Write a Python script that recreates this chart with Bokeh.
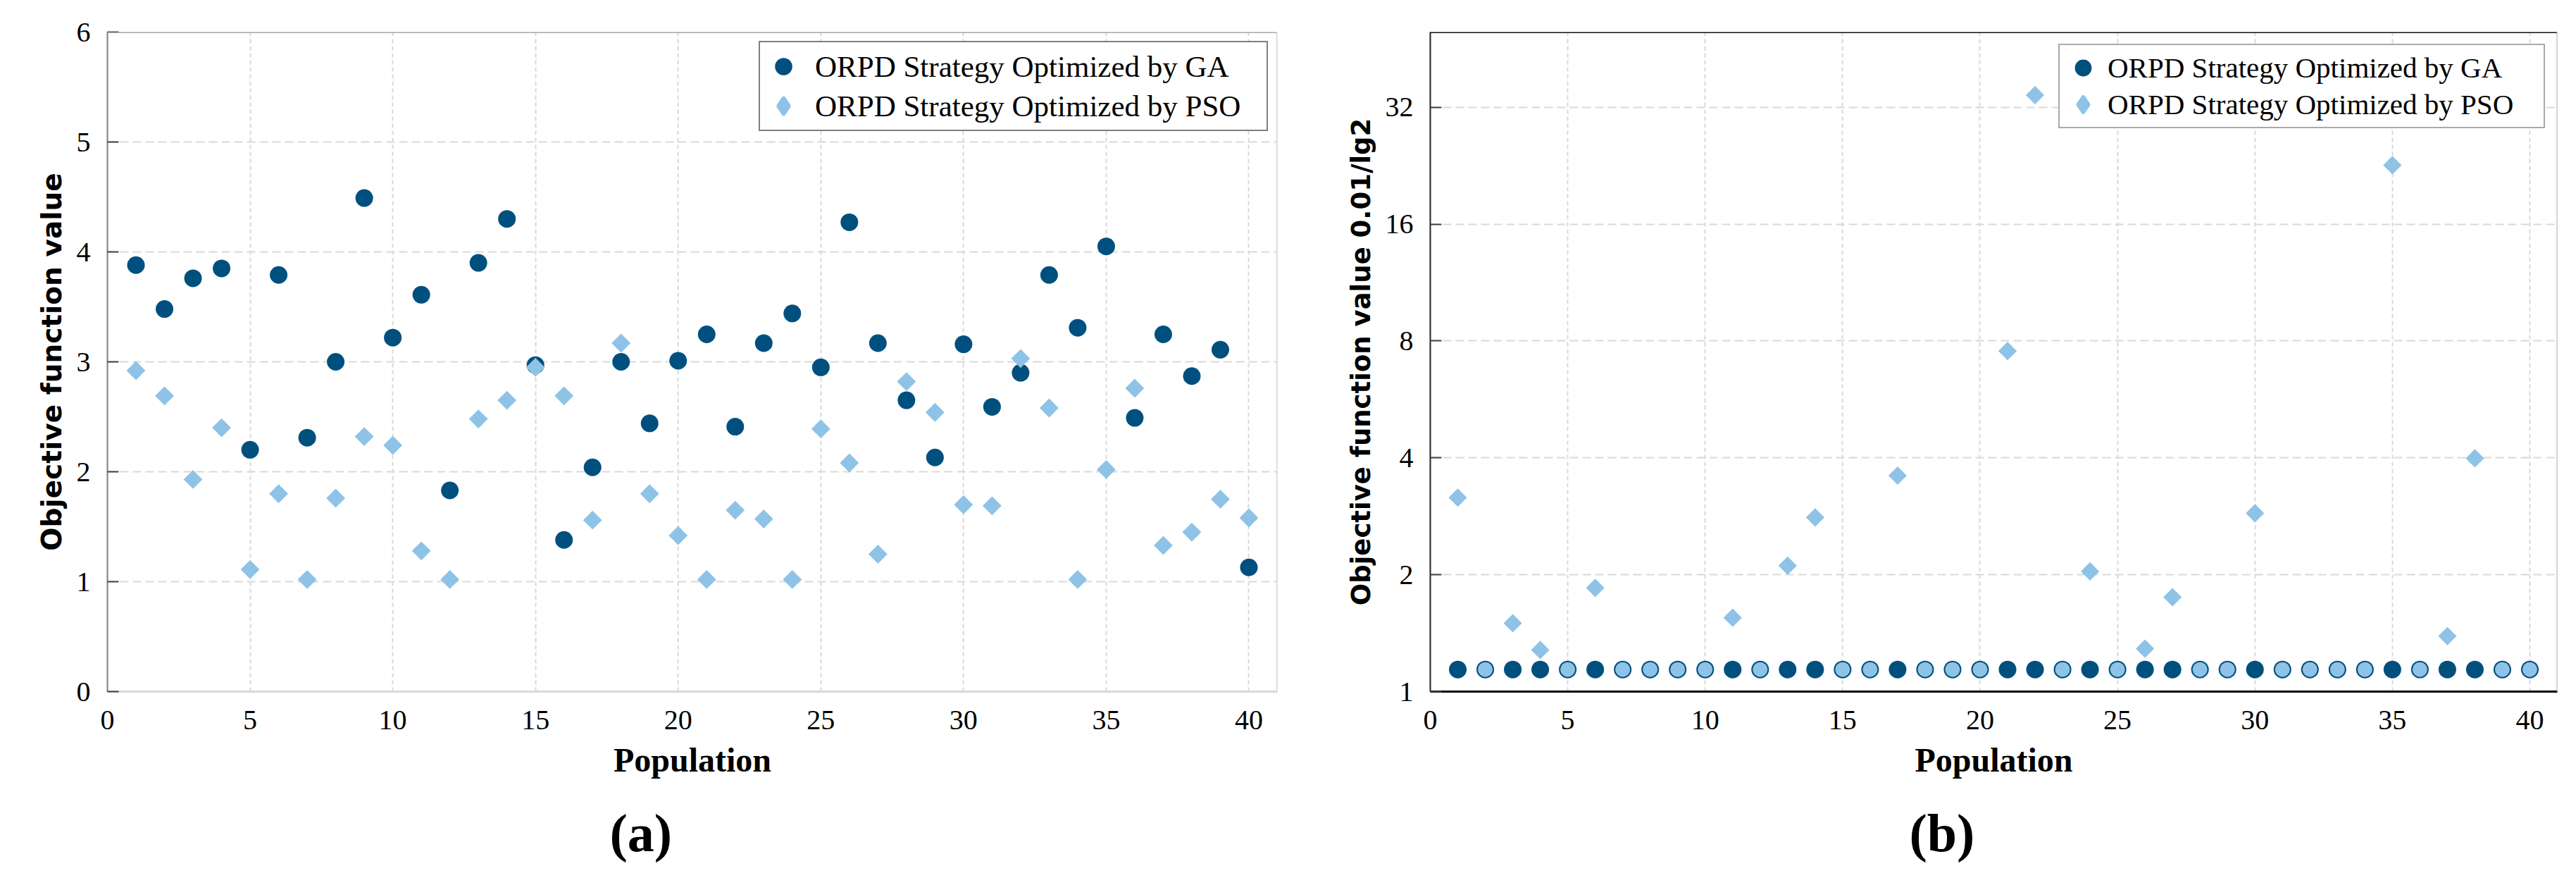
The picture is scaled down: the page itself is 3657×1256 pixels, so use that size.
import math
from bokeh.plotting import figure
from bokeh.models import (ColumnDataSource, Range1d, FixedTicker, Span, Title,
                          Legend, LegendItem, BasicTickFormatter)
from bokeh.layouts import row
from bokeh.embed import file_html
from bokeh.resources import INLINE

# ---------------- data ----------------
population = [1, 2, 3, 4, 5, 6, 7, 8, 9, 10, 11, 12, 13, 14, 15, 16, 17, 18, 19, 20,
              21, 22, 23, 24, 25, 26, 27, 28, 29, 30, 31, 32, 33, 34, 35, 36, 37, 38, 39, 40]

ga_a = [3.88, 3.48, 3.76, 3.85, 2.20, 3.79, 2.31, 3.00, 4.49, 3.22,
        3.61, 1.83, 3.90, 4.30, 2.97, 1.38, 2.04, 3.00, 2.44, 3.01,
        3.25, 2.41, 3.17, 3.44, 2.95, 4.27, 3.17, 2.65, 2.13, 3.16,
        2.59, 2.90, 3.79, 3.31, 4.05, 2.49, 3.25, 2.87, 3.11, 1.13]
pso_a = [2.92, 2.69, 1.93, 2.40, 1.11, 1.80, 1.02, 1.76, 2.32, 2.24,
         1.28, 1.02, 2.48, 2.65, 2.95, 2.69, 1.56, 3.17, 1.80, 1.42,
         1.02, 1.65, 1.57, 1.02, 2.39, 2.08, 1.25, 2.82, 2.54, 1.70,
         1.69, 3.03, 2.58, 1.02, 2.02, 2.76, 1.33, 1.45, 1.75, 1.58]

ga_b = [1.14, 1.14, 1.14, 1.14, 1.14, 1.14, 1.14, 1.14, 1.14, 1.14,
        1.14, 1.14, 1.14, 1.14, 1.14, 1.14, 1.14, 1.14, 1.14, 1.14,
        1.14, 1.14, 1.14, 1.14, 1.14, 1.14, 1.14, 1.14, 1.14, 1.14,
        1.14, 1.14, 1.14, 1.14, 1.14, 1.14, 1.14, 1.14, 1.14, 1.14]
pso_b = [3.16, 1.14, 1.50, 1.28, 1.14, 1.85, 1.14, 1.14, 1.14, 1.14,
         1.55, 1.14, 2.11, 2.81, 1.14, 1.14, 3.60, 1.14, 1.14, 1.14,
         7.54, 34.4, 1.14, 2.04, 1.14, 1.29, 1.75, 1.14, 1.14, 2.88,
         1.14, 1.14, 1.14, 1.14, 22.7, 1.14, 1.39, 3.99, 1.14, 1.14]

x_ticks = [0, 5, 10, 15, 20, 25, 30, 35, 40]
y_ticks_a = [0, 1, 2, 3, 4, 5, 6]
y_ticks_b = [1, 2, 4, 8, 16, 32]

label_ga = "ORPD Strategy Optimized by GA"
label_pso = "ORPD Strategy Optimized by PSO"

# ---------------- style ----------------
GA_C = "#00507f"
PSO_C = "#8ec3e7"
SERIF = "Liberation Serif"
SANS = "DejaVu Sans"
GRID_C = "#d9d9d9"
FIG_H = 1255


def style_common(p, xtitle, ytitle, ytitle_size):
    p.background_fill_color = "white"
    p.border_fill_color = "white"
    p.outline_line_color = None
    for ax in (p.xaxis[0], p.yaxis[0]):
        ax.major_label_text_font = SERIF
        ax.major_label_text_font_size = "40px"
        ax.major_label_text_color = "black"
        ax.minor_tick_line_color = None
    xa = p.xaxis[0]
    xa.ticker = FixedTicker(ticks=x_ticks)
    xa.major_tick_in = 0
    xa.major_tick_out = 0
    xa.major_label_standoff = 27
    xa.axis_label = xtitle
    xa.axis_label_text_font = SERIF
    xa.axis_label_text_font_style = "bold"
    xa.axis_label_text_font_size = "48px"
    xa.axis_label_text_color = "black"
    xa.axis_label_standoff = 14
    ya = p.yaxis[0]
    ya.major_tick_in = 16
    ya.major_tick_out = 0
    ya.major_tick_line_color = "#404040"
    ya.major_tick_line_width = 2
    ya.major_label_standoff = 24
    ya.axis_label = ytitle
    ya.axis_label_text_font = SANS
    ya.axis_label_text_font_style = "bold"
    ya.axis_label_text_font_size = ytitle_size
    ya.axis_label_text_color = "black"
    ya.axis_label_standoff = 10
    p.xgrid[0].ticker = FixedTicker(ticks=x_ticks)
    p.xgrid[0].grid_line_color = GRID_C
    p.xgrid[0].grid_line_width = 2
    p.xgrid[0].grid_line_dash = "6 4"
    p.ygrid[0].grid_line_color = GRID_C
    p.ygrid[0].grid_line_width = 2
    p.ygrid[0].grid_line_dash = "12 6"


def make_legend(r1, r2, margin, pad, gw, gh, lw, fsize, standoff, border):
    leg = Legend(items=[LegendItem(label=label_ga, renderers=[r1]),
                        LegendItem(label=label_pso, renderers=[r2])],
                 location="top_right", orientation="vertical")
    leg.margin = margin
    leg.padding = pad
    leg.spacing = 0
    leg.glyph_width = gw
    leg.glyph_height = gh
    leg.label_height = gh
    leg.label_width = lw
    leg.label_standoff = standoff
    leg.label_text_font = SERIF
    leg.label_text_font_size = fsize
    leg.label_text_color = "black"
    leg.border_line_color = border
    leg.border_line_width = 2
    leg.background_fill_color = "white"
    leg.background_fill_alpha = 1.0
    return leg


def legend_swatches(p, src, ycol_ga, ycol_pso):
    # swatch-only renderers: their points map onto an off-screen range,
    # they exist only so the legend shows a round dot and a diamond
    p.extra_x_ranges = {"legend_only": Range1d(1000, 1001)}
    g = p.scatter("x", ycol_ga, source=src, marker="circle", x_range_name="legend_only",
                  fill_color=GA_C, line_color=GA_C, line_width=3)
    d = p.scatter("x", ycol_pso, source=src, marker="diamond", x_range_name="legend_only",
                  fill_color=PSO_C, line_color=PSO_C, line_width=6, line_join="round")
    return g, d


def caption(p, text, offset, standoff):
    p.add_layout(Title(text=text, align="left", offset=offset, standoff=standoff,
                       text_font=SERIF, text_font_size="76px", text_font_style="bold",
                       text_color="black"), "below")


# ---------------- panel (a) ----------------
pa = figure(width=1840, height=FIG_H, x_range=Range1d(0, 41), y_range=Range1d(0, 6),
            output_backend="svg", toolbar_location=None,
            min_border_left=152, min_border_right=27, min_border_top=45, min_border_bottom=274)
style_common(pa, "Population", "Objective function value", "39px")
pa.yaxis[0].ticker = FixedTicker(ticks=y_ticks_a)
pa.ygrid[0].ticker = FixedTicker(ticks=y_ticks_a)
pa.xaxis[0].axis_line_color = GRID_C
pa.xaxis[0].axis_line_width = 3
pa.yaxis[0].axis_line_color = "#7f7f7f"
pa.yaxis[0].axis_line_width = 2
pa.add_layout(Span(location=6, dimension="width", line_color="#a6a6a6", line_width=3))
pa.add_layout(Span(location=41, dimension="height", line_color="#d4d4d4", line_width=3))

src_a = ColumnDataSource(dict(x=population, ga=ga_a, pso=pso_a))
ra1 = pa.scatter("x", "ga", source=src_a, marker="circle", size=25,
                 fill_color=GA_C, line_color=None)
ra2 = pa.scatter("x", "pso", source=src_a, marker="square", angle=math.pi / 4, size=19,
                 fill_color=PSO_C, line_color=None)
ga_sw, pso_sw = legend_swatches(pa, src_a, "ga", "pso")
pa.add_layout(make_legend(ga_sw, pso_sw, 13, 6, 54, 56, 635, "43px", 18, "black"))
caption(pa, "(a)", 713, 60)

# ---------------- panel (b) ----------------
pb = figure(width=1810, height=FIG_H, x_range=Range1d(0, 41), y_range=Range1d(1, 50),
            y_axis_type="log", output_backend="svg", toolbar_location=None,
            min_border_left=190, min_border_right=20, min_border_top=45, min_border_bottom=274)
style_common(pb, "Population", "Objective function value 0.01/lg2", "37px")
pb.yaxis[0].ticker = FixedTicker(ticks=y_ticks_b)
pb.ygrid[0].ticker = FixedTicker(ticks=y_ticks_b)
pb.yaxis[0].formatter = BasicTickFormatter()
pb.xaxis[0].axis_line_color = "black"
pb.xaxis[0].axis_line_width = 3
pb.yaxis[0].axis_line_color = "#222222"
pb.yaxis[0].axis_line_width = 2
pb.add_layout(Span(location=50, dimension="width", line_color="#111111", line_width=3))
pb.add_layout(Span(location=41, dimension="height", line_color="#a9a9a9", line_width=2))

same = [p == g for p, g in zip(pso_b, ga_b)]
src_b = ColumnDataSource(dict(
    x=population, ga=ga_b, pso=pso_b,
    marker=["circle" if s else "square" for s in same],
    angle=[0.0 if s else math.pi / 4 for s in same],
    size=[21 if s else 18.5 for s in same],
))
rb1 = pb.scatter("x", "ga", source=src_b, marker="circle", size=25,
                 fill_color=GA_C, line_color=None)
rb2 = pb.scatter("x", "pso", source=src_b, marker="marker", angle="angle", size="size",
                 fill_color=PSO_C, line_color=None)
gb_sw, pb_sw = legend_swatches(pb, src_b, "ga", "pso")
pb.add_layout(make_legend(gb_sw, pb_sw, 17, 6, 54, 52, 613, "41px", 8, "#555555"))
caption(pb, "(b)", 680, 60)

layout = row(pa, pb)
open("out.html", "w").write(file_html(layout, INLINE))
